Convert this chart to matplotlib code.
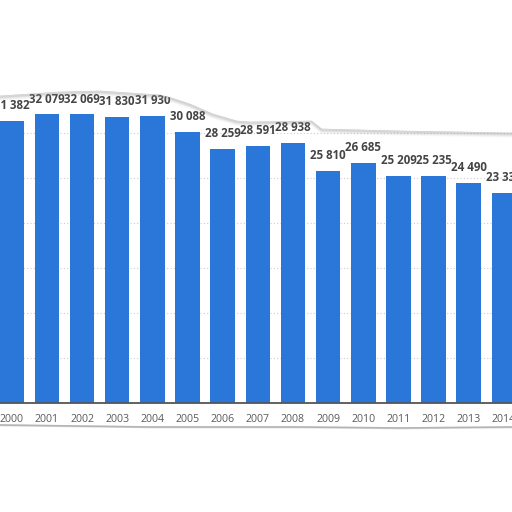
import matplotlib
matplotlib.use('Agg')
import matplotlib.pyplot as plt
import numpy as np

years = ['2000', '2001', '2002', '2003', '2004', '2005', '2006', '2007',
         '2008', '2009', '2010', '2011', '2012', '2013', '2014']
values = [31382, 32079, 32069, 31830, 31930, 30088, 28259, 28591,
          28938, 25810, 26685, 25209, 25235, 24490, 23337]

# torn paper edges (figure pixels, y from top)
top_edge = [(0, 95), (30, 93), (60, 91), (100, 90), (130, 92), (160, 94),
            (172, 97), (190, 103), (213, 113), (237, 120), (250, 121),
            (312, 120), (322, 128), (400, 130), (460, 131), (512, 132)]
bottom_edge = [(0, 425), (150, 427), (300, 427), (400, 428), (512, 427)]

W = H = 512
fig = plt.figure(figsize=(W / 100, H / 100), dpi=100)
fig.patch.set_facecolor('white')

ax = fig.add_axes([0, 109 / H, 1, 315 / H])
ax.set_facecolor('white')

x = np.arange(len(years))
ax.bar(x, values, width=0.70, color='#2a77d9', zorder=3)

pitch = 35.16
ax.set_xlim(-11.7 / pitch, (W - 11.7) / pitch)
ax.set_ylim(0, 35000)

for yv in range(5000, 35000, 5000):
    ax.axhline(yv, color='#cccccc', lw=0.8, ls=(0, (1, 2)), zorder=1)

for xi, v in zip(x, values):
    s = '{:,}'.format(v).replace(',', ' ')
    ax.annotate(s, (xi, v), xytext=(0, 6.3), textcoords='offset points',
                ha='center', va='bottom', fontsize=8.3, fontweight='bold',
                color='#444444', family=['Open Sans', 'DejaVu Sans'],
                annotation_clip=False, zorder=4)

ax.set_xticks(x)
ax.set_xticklabels(years, fontsize=7.7, color='#5a5a5a',
                   family=['Open Sans', 'DejaVu Sans'])
ax.tick_params(axis='x', length=0, pad=8)
ax.set_yticks([])
for sp in ['top', 'left', 'right']:
    ax.spines[sp].set_visible(False)
ax.spines['bottom'].set_color('#555555')
ax.spines['bottom'].set_linewidth(1.3)
ax.spines['bottom'].set_zorder(5)

# paper edges drawn over the chart
ov = fig.add_axes([0, 0, 1, 1], facecolor='none')
ov.set_xlim(0, W)
ov.set_ylim(H, 0)
ov.axis('off')

tx = [p[0] for p in top_edge]
ty = [p[1] for p in top_edge]
for k, a in [(4, 0.05), (3, 0.08), (2, 0.12), (1, 0.18)]:
    ov.plot(tx, [t + k for t in ty], color='#888888', lw=2.5, alpha=a)
ov.plot(tx, ty, color='#b5b5b5', lw=1.2)
ov.fill_between(tx, 0, ty, color='white', zorder=3)

bx = [p[0] for p in bottom_edge]
by = [p[1] for p in bottom_edge]
for k, a in [(4, 0.05), (3, 0.08), (2, 0.12), (1, 0.18)]:
    ov.plot(bx, [t + k for t in by], color='#888888', lw=2.5, alpha=a)
ov.plot(bx, by, color='#b5b5b5', lw=1.2)
ov.fill_between(bx, [t + 2 for t in by], H, color='white', zorder=3)

fig.savefig('out.png', dpi=100, facecolor='white')
